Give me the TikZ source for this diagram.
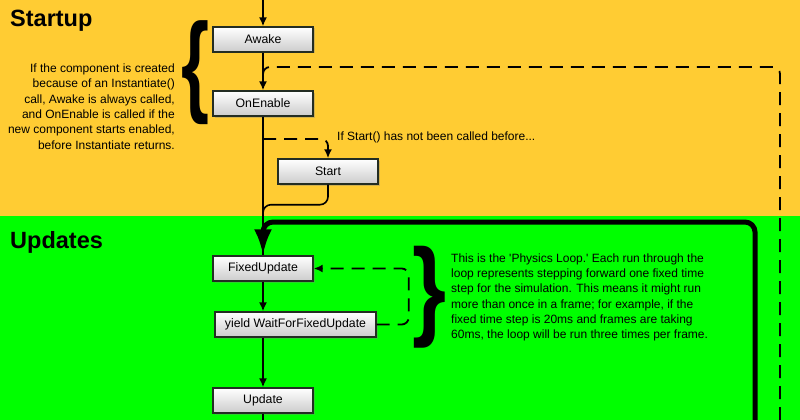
\documentclass[tikz,border=0pt]{standalone}
\usepackage{fontspec}
\setmainfont{Liberation Sans}
\usetikzlibrary{arrows.meta,positioning,shadows}
\definecolor{startbg}{RGB}{255,204,51}
\definecolor{updatebg}{RGB}{0,255,0}
\definecolor{boxline}{RGB}{35,45,35}

\tikzset{
  fn/.style={draw=boxline, line width=1.4pt, top color=white, bottom color=gray!40,
    minimum width=100pt, minimum height=25pt, inner sep=0pt,
    font=\fontsize{12.3}{14}\selectfont,
    drop shadow={shadow xshift=1.5pt, shadow yshift=-1.5pt, opacity=0.35}},
  line/.style={line width=1.6pt},
  flow/.style={line width=1.6pt, -{Latex[length=9pt,width=8pt]}},
  back/.style={line width=1.8pt, dash pattern=on 13pt off 8pt, rounded corners=7pt},
  loopline/.style={line width=5pt, rounded corners=10pt},
  title/.style={font=\fontsize{23.5}{26}\bfseries\selectfont, anchor=base west, inner sep=0pt},
  note/.style={font=\fontsize{12}{15.3}\selectfont, inner sep=0pt},
}

\begin{document}
\begin{tikzpicture}[x=1pt, y=-1pt]
  \useasboundingbox (0,0) rectangle (800,420);

  % --- Backgrounds ---
  \fill[startbg] (0,0) rectangle (800,216);
  \fill[updatebg] (0,216) rectangle (800,420);

  \node[title] (startup) at (10,27) {Startup};
  \node[title] (updates) at (10,248) {Updates};

  % --- Boxes ---
  \node[fn] (awake) at (263,39.5) {Awake};
  \node[fn] (onenable) at (263,103.5) {OnEnable};
  \node[fn] (start) at (328,171.5) {Start};
  \node[fn] (fixed) at (263,268.5) {FixedUpdate};
  \node[fn, minimum width=161pt] (yield) at (295.5,324.5) {yield WaitForFixedUpdate};
  \node[fn] (update) at (263,400.5) {Update};

  % --- Notes and braces ---
  \node[inner sep=0pt, anchor=north west] (lbrace) at (181,20)
    {\resizebox*{28pt}{104pt}{\bfseries\{}};
  \node[note, align=right, anchor=east] (whynote) at (175,106.5)
    {If the component is created\\because of an Instantiate()\\call, Awake is always called,\\and OnEnable is called if the\\new component starts enabled,\\before Instantiate returns.};
  \node[note, anchor=base west] (startnote) at (337,140)
    {If Start() has not been called before...};
  \node[inner sep=0pt, anchor=north west] (rbrace) at (412,246)
    {\resizebox*{34pt}{102pt}{\bfseries\}}};
  \node[note, align=left, anchor=west] (physnote) at (451,297.5)
    {This is the \textquotesingle Physics Loop.\textquotesingle\ Each run through the\\loop represents stepping forward one fixed time\\step for the simulation. This means it might run\\more than once in a frame; for example, if the\\fixed time step is 20ms and frames are taking\\60ms, the loop will be run three times per frame.};

  % --- Coordinates ---
  \coordinate (entry) at (263,0);
  \coordinate (split) at (263,139);
  \coordinate (join) at (263,222);
  \coordinate (rejoin) at (263,85);
  \coordinate (reenter) at (780,420);
  \coordinate (loopend) at (755,420);
  \coordinate (exit) at (263,420);

  % --- Startup connectors ---
  \draw[flow] (entry) -- (awake);
  \draw[flow] (awake) -- (onenable);
  \draw[back] (reenter) |- (rejoin |- 0,67) -- (rejoin);
  \draw[line] (onenable) -- (fixed);
  \draw[back, -{Latex[length=9pt,width=8pt]}] (split) -| (start.north);
  \draw[line, rounded corners=8pt] (start.south) -- ++(0,20) -| (join);

  % --- Update connectors ---
  \draw[loopline, -{Latex[length=26pt,width=18pt]}] (loopend) |- (join) -- (fixed.north);
  \draw[flow] (fixed.south) -- (fixed.south |- yield.north);
  \draw[back, -{Latex[length=9pt,width=8pt]}] (yield.east) -- ++(32,0) |- (fixed.east);
  \draw[flow] (fixed |- yield.south) -- (update);
  \draw[line] (update) -- (exit);
\end{tikzpicture}
\end{document}
